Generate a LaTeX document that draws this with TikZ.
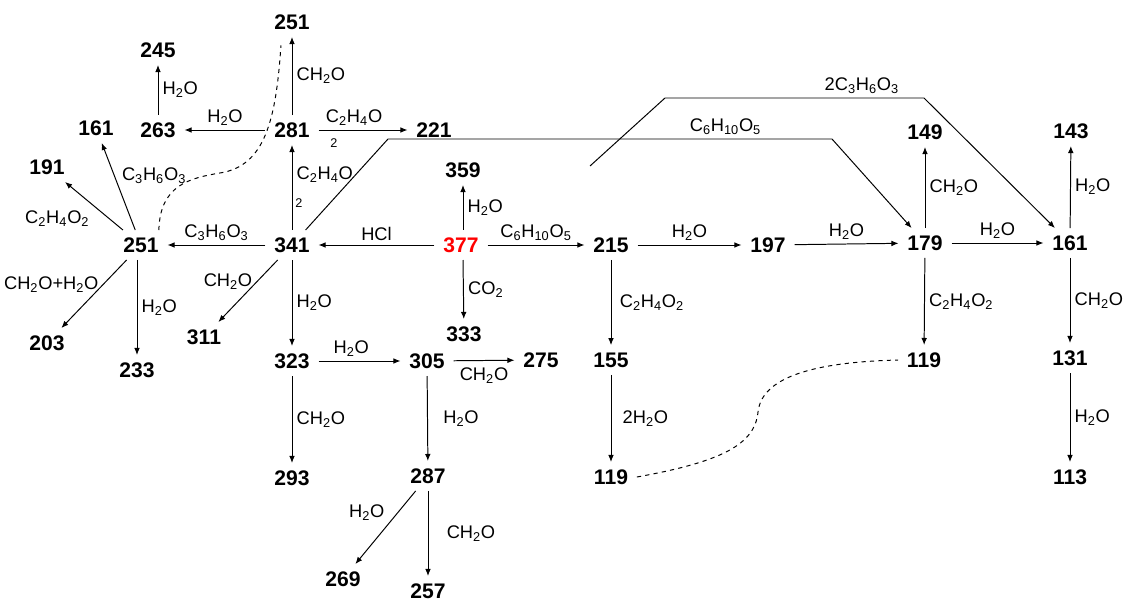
\documentclass[tikz,border=0pt]{standalone}
\usepackage{fontspec}
\setmainfont{Liberation Sans}
\usetikzlibrary{positioning}
\usetikzlibrary{arrows.meta}
\newcommand{\dn}[1]{\textsubscript{#1}}

\begin{document}
\begin{tikzpicture}[
    x=0.25mm, y=-0.25mm,
    ion/.style={font=\fontsize{15}{17}\selectfont\bfseries, inner xsep=6pt, inner ysep=5pt},
    loss/.style={font=\fontsize{13}{15}\selectfont, inner sep=3pt},
    tiny/.style={font=\fontsize{9}{10}\selectfont, inner sep=0pt},
    >={Latex[length=5pt,width=4pt]},
    line width=0.7pt
]
\useasboundingbox (0,0) rectangle (1124,604);

% precursor
\node[ion, text=red] (m377) at (461,245) {377};
\node[ion] (m341) at (292,245) {341};
\node[ion] (m359) at (463,170) {359};
\node[ion] (m333) at (464,334) {333};
\node[ion] (m215) at (611,245) {215};

% left branch
\node[ion] (m281) at (292,130) {281};
\node[ion] (m251t) at (292,22) {251};
\node[ion] (m263) at (158,130) {263};
\node[ion] (m245) at (158,50) {245};
\node[ion] (m221) at (434,130) {221};
\node[ion] (m251) at (141,245) {251};
\node[ion] (m161a) at (96,128) {161};
\node[ion] (m191) at (47,167) {191};
\node[ion] (m203) at (47,343) {203};
\node[ion] (m233) at (137,370) {233};
\node[ion] (m311) at (204,337) {311};
\node[ion] (m323) at (292,361) {323};
\node[ion] (m293) at (292,478) {293};
\node[ion] (m305) at (427,361) {305};
\node[ion] (m275) at (541,360) {275};
\node[ion] (m287) at (428,476) {287};
\node[ion] (m269) at (343,579) {269};
\node[ion] (m257) at (428,591) {257};

% right branch
\node[ion] (m197) at (768,245) {197};
\node[ion] (m179) at (925,243) {179};
\node[ion] (m161b) at (1070,243) {161};
\node[ion] (m149) at (925,132) {149};
\node[ion] (m143) at (1071,131) {143};
\node[ion] (m155) at (611,360) {155};
\node[ion] (m119a) at (611,477) {119};
\node[ion] (m119b) at (924,360) {119};
\node[ion] (m131) at (1070,358) {131};
\node[ion] (m113) at (1070,477) {113};

% losses from 377
\draw[->] (m377) -- node[loss, above] {HCl} (m341);
\draw[->] (m377.north -| m359) -- node[loss, right=0pt] {H\dn{2}O} (m359);
\draw[->] (m377.south -| m359) -- node[loss, right] {CO\dn{2}} (m333);
\draw[->] (m377) -- node[loss, above] {C\dn{6}H\dn{10}O\dn{5}} (m215);

% losses from 341
\draw[->] (m341) -- node[loss, right, pos=0.65] {C\dn{2}H\dn{4}O} (m281);
\draw[->] (m341) -- node[loss, above] {C\dn{3}H\dn{6}O\dn{3}} (m251);
\draw[->] (m341) -- node[loss, left, pos=0.35] {CH\dn{2}O} (m311);
\draw[->] (m341) -- node[loss, right] {H\dn{2}O} (m323);
\node[tiny] (two2) at (299,203) {2};

% losses from 281
\draw[->] (m281) -- node[loss, right] {CH\dn{2}O} (m251t);
\draw[->] (m281) -- node[loss, above] {H\dn{2}O} (m263);
\draw[->] (m281) -- node[loss, above, pos=0.4] {C\dn{2}H\dn{4}O} (m221);
\node[tiny] (two1) at (334,143) {2};
\draw[->] (m263) -- node[loss, right] {H\dn{2}O} (m245);

% losses from 251
\draw[->] (m251) -- node[loss, right=2pt, pos=0.62] {C\dn{3}H\dn{6}O\dn{3}} (m161a);
\draw[->] (m251) -- node[loss, below left, pos=0.5] {C\dn{2}H\dn{4}O\dn{2}} (m191);
\draw[->] (m251) -- node[loss, left, pos=0.36] {CH\dn{2}O+H\dn{2}O} (m203);
\draw[->] (m251.south -| m233) -- node[loss, right] {H\dn{2}O} (m233);
\draw[dashed, shorten >=6pt] (m251.40) .. controls (160,185) and (190,178) .. (220,173)
    .. controls (265,166) and (276,120) .. (m251t.235);

% lower cascade
\draw[->] (m323) -- node[loss, above, pos=0.4] {H\dn{2}O} (m305);
\draw[->] (m323) -- node[loss, right] {CH\dn{2}O} (m293);
\draw[->] (m305) -- node[loss, below=2pt] {CH\dn{2}O} (m275);
\draw[->] (m305) -- node[loss, right=8pt] {H\dn{2}O} (m287);
\draw[->] (m287) -- node[loss, left, pos=0.3, xshift=-6pt] {H\dn{2}O} (m269);
\draw[->] (m287) -- node[loss, right=10pt] {CH\dn{2}O} (m257);

% right cascade
\draw[->] (m215) -- node[loss, above] {H\dn{2}O} (m197);
\draw[->] (m197) -- node[loss, above] {H\dn{2}O} (m179);
\draw[->] (m179) -- node[loss, above] {H\dn{2}O} (m161b);
\draw[->] (m179) -- node[loss, right] {CH\dn{2}O} (m149);
\draw[->] (m161b) -- node[loss, right=0pt] {H\dn{2}O} (m143);
\draw[->] (m215) -- node[loss, right=3pt] {C\dn{2}H\dn{4}O\dn{2}} (m155);
\draw[->] (m179) -- node[loss, right] {C\dn{2}H\dn{4}O\dn{2}} (m119b);
\draw[->] (m161b) -- node[loss, right=0pt] {CH\dn{2}O} (m131);
\draw[->] (m155) -- node[loss, right=5pt] {2H\dn{2}O} (m119a);
\draw[->] (m131) -- node[loss, right=0pt] {H\dn{2}O} (m113);
\draw[dashed] (m119a.east) .. controls (720,462) and (755,445) .. (758,412)
    .. controls (762,375) and (820,362) .. (m119b.west);

% long losses
\draw[->] (m341) -- (388,139) -- node[loss, above, pos=0.76] {C\dn{6}H\dn{10}O\dn{5}} (832,139) -- (m179);
\coordinate (free) at (590,166);
\draw[->] (free) -- (665,98) -- node[loss, above, pos=0.76] {2C\dn{3}H\dn{6}O\dn{3}} (924,98) -- (m161b);

\end{tikzpicture}
\end{document}
